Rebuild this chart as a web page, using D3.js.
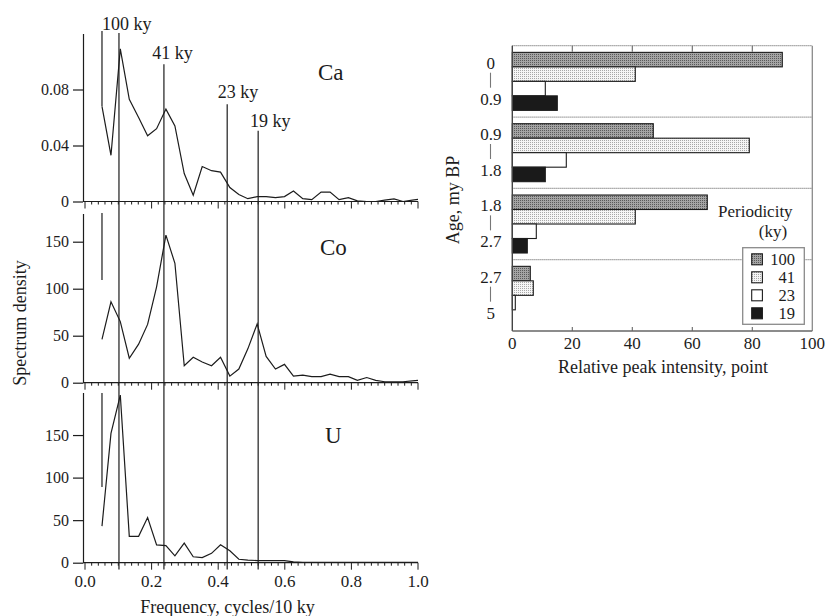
<!DOCTYPE html>
<html>
<head>
<meta charset="utf-8">
<script src="https://cdn.jsdelivr.net/npm/d3@7"></script>
<style>
  body { margin: 0; background: #fff; }
  svg { display: block; font-family: "Liberation Serif", "Times New Roman", serif; }
</style>
</head>
<body>
<svg id="chart" width="825" height="616"></svg>
<script>
// ---- Spectra: frequency grid (cycles / 10 ky) and spectral density per element ----
const frequency = [0.051, 0.078, 0.106, 0.133, 0.161, 0.188, 0.215, 0.243, 0.270, 0.298,
                   0.325, 0.352, 0.380, 0.407, 0.435, 0.462, 0.489, 0.517, 0.544, 0.572,
                   0.599, 0.626, 0.654, 0.681, 0.709, 0.736, 0.763, 0.791, 0.818, 0.846,
                   0.873, 0.900, 0.928, 0.955, 0.983, 1.000];
const caDensity = [0.068, 0.033, 0.109, 0.073, 0.060, 0.047, 0.052, 0.066, 0.054, 0.020,
                   0.0045, 0.025, 0.022, 0.021, 0.010, 0.005, 0.002, 0.0035, 0.0035, 0.0027,
                   0.0035, 0.0075, 0.002, 0.0013, 0.0067, 0.0067, 0.0013, 0.0027, 0.0005, 0.0,
                   0.0, 0.001, 0.0018, 0.0, 0.001, 0.0015];
const coDensity = [46, 86, 65, 26, 41, 62, 102, 157, 127, 18,
                   27, 22, 18, 27, 7, 14.5, 36, 62.5, 28, 14.5,
                   19.5, 7, 8, 6.5, 6.5, 9, 6.5, 6.5, 2.5, 5.5,
                   2.5, 1, 1, 1, 2, 2.5];
const uDensity  = [43, 152, 197, 31, 31, 53, 21, 20, 8, 23,
                   7, 6, 11, 21, 14, 4, 3, 2.5, 2.5, 2.5,
                   2.5, 1, 0.5, 0.5, 0.5, 0.5, 0.5, 0.5, 0.5, 0.5,
                   0.5, 0.5, 0.5, 0.5, 0.5, 0.5];

// Orbital cycles marked across the spectra
const cycleLabels = ["100 ky", "41 ky", "23 ky", "19 ky"];
const cycleFrequency = [0.102, 0.237, 0.427, 0.52];
const recordStart = 0.051;

const freqTickLabels = [0, 0.2, 0.4, 0.6, 0.8, 1.0];
const caTicks = [0, 0.04, 0.08];
const coTicks = [0, 50, 100, 150];
const uTicks = [0, 50, 100, 150];

// ---- Relative peak intensity per age interval (my BP) ----
const ageFrom = ["0", "0.9", "1.8", "2.7"];
const ageTo = ["0.9", "1.8", "2.7", "5"];
const periodicity = ["100", "41", "23", "19"];
const intensity100 = [90, 47, 65, 6];
const intensity41 = [41, 79, 41, 7];
const intensity23 = [11, 18, 8, 1];
const intensity19 = [15, 11, 5, 0];
const intensityTicks = [0, 20, 40, 60, 80, 100];

const ink = "#1c1c1c";
const svg = d3.select("#chart");

// ---------- stipple fills ----------
const defs = svg.append("defs");
function stipple(id, bg, dot) {
  const p = defs.append("pattern").attr("id", id).attr("patternUnits", "userSpaceOnUse")
    .attr("width", 2).attr("height", 2);
  p.append("rect").attr("width", 2).attr("height", 2).attr("fill", bg);
  p.append("rect").attr("width", 1).attr("height", 1).attr("fill", dot);
}
stipple("dots-dark", "#a4a4a4", "#5a5a5a");
stipple("dots-light", "#f6f6f6", "#a8a8a8");
const periodFill = { "100": "url(#dots-dark)", "41": "url(#dots-light)", "23": "#ffffff", "19": "#1a1a1a" };

// =============== LEFT: spectra ===============
const x = d3.scaleLinear().domain([0, 1]).range([85, 418]);
const axisX0 = 83;

const panels = [
  { name: "Ca", values: caDensity, domain: [0, 0.12], range: [201.5, 33.5], ticks: caTicks,
    fmt: d => d === 0 ? "0" : d3.format(".2f")(d), nameX: 318, nameY: 80, startTop: 31, startEnd: null },
  { name: "Co", values: coDensity, domain: [0, 180], range: [382.7, 213.5], ticks: coTicks,
    fmt: d3.format("d"), nameX: 320, nameY: 255, startTop: 213, startEnd: 280 },
  { name: "U", values: uDensity, domain: [0, 200], range: [562.7, 392.5], ticks: uTicks,
    fmt: d3.format("d"), nameX: 325, nameY: 443, startTop: 393, startEnd: 487 }
];

const minorTicks = x.ticks(50);

panels.forEach((p, idx) => {
  const y = d3.scaleLinear().domain(p.domain).range(p.range);
  const g = svg.append("g");
  const y0 = y(0);

  // y axis
  const yAxis = d3.axisLeft(y).tickValues(p.ticks).tickFormat(p.fmt)
    .tickSize(10).tickSizeOuter(0).tickPadding(4);
  const ya = g.append("g").attr("transform", `translate(${axisX0},0)`).call(yAxis);
  ya.attr("font-family", null).attr("font-size", null);
  ya.selectAll("path,line").attr("stroke", ink).attr("stroke-width", 1.2);
  ya.selectAll("text").attr("fill", ink).style("font-size", "16px");

  // x axis line with minor / major ticks pointing down
  g.append("line").attr("x1", axisX0).attr("x2", x(1)).attr("y1", y0).attr("y2", y0)
    .attr("stroke", ink).attr("stroke-width", 1.2);
  g.selectAll(".xt").data(minorTicks).join("line")
    .attr("x1", d => x(d)).attr("x2", d => x(d))
    .attr("y1", y0)
    .attr("y2", d => y0 + (Math.abs(d * 5 - Math.round(d * 5)) < 1e-6 ? 7 : 3))
    .attr("stroke", ink).attr("stroke-width", 1);

  // marker at the start of the record
  const startEnd = p.startEnd === null ? y(p.values[0]) : p.startEnd;
  g.append("line").attr("x1", x(recordStart)).attr("x2", x(recordStart))
    .attr("y1", p.startTop).attr("y2", startEnd).attr("stroke", ink).attr("stroke-width", 1.2);

  // spectrum
  const line = d3.line().x((d, i) => x(frequency[i])).y(d => y(d));
  g.append("path").datum(p.values).attr("d", line)
    .attr("fill", "none").attr("stroke", ink).attr("stroke-width", 1.2).attr("stroke-linejoin", "miter");

  // element name
  g.append("text").attr("x", p.nameX).attr("y", p.nameY).attr("fill", ink)
    .style("font-size", "23px").text(p.name);

  if (idx === panels.length - 1) {
    g.selectAll(".xl").data(freqTickLabels).join("text")
      .attr("x", d => x(d)).attr("y", 586.5).attr("text-anchor", "middle")
      .attr("fill", ink).style("font-size", "17px").text(d => d3.format(".1f")(d));
  }
});

// cycle lines across all three spectra
const cycleLayout = [
  { top: 33, lx: 102, ly: 30 },
  { top: 64.3, lx: 152.3, ly: 59 },
  { top: 104.3, lx: 217.7, ly: 98 },
  { top: 130.7, lx: 250, ly: 127 }
];
cycleFrequency.forEach((f, i) => {
  svg.append("line").attr("x1", x(f)).attr("x2", x(f))
    .attr("y1", cycleLayout[i].top).attr("y2", 569.5)
    .attr("stroke", ink).attr("stroke-width", 1.2);
  svg.append("text").attr("x", cycleLayout[i].lx).attr("y", cycleLayout[i].ly)
    .attr("fill", ink).style("font-size", "18px").text(cycleLabels[i]);
});

svg.append("text").attr("x", 227.5).attr("y", 613).attr("text-anchor", "middle")
  .attr("fill", ink).style("font-size", "18px").text("Frequency, cycles/10 ky");
svg.append("text").attr("transform", "translate(26,323) rotate(-90)").attr("text-anchor", "middle")
  .attr("fill", ink).style("font-size", "18px").text("Spectrum density");

// =============== RIGHT: relative peak intensity ===============
const xr = d3.scaleLinear().domain([0, 100]).range([512.3, 812.3]);
const frameTop = 45.7, frameBottom = 331;
const groups = d3.scaleBand().domain(ageFrom).range([frameTop, frameBottom]);
const inner = d3.scaleBand().domain(periodicity).range([0, groups.bandwidth()]).paddingOuter(0.46);

const series = { "100": intensity100, "41": intensity41, "23": intensity23, "19": intensity19 };
const rows = [];
ageFrom.forEach((a, gi) => periodicity.forEach(pk => rows.push({ age: a, period: pk, value: series[pk][gi] })));

const rg = svg.append("g");

// dotted frame top and interval separators
const sepY = [frameTop].concat(ageFrom.slice(1).map(a => groups(a)));
rg.selectAll(".sep").data(sepY).join("line")
  .attr("x1", xr(0)).attr("x2", xr(100)).attr("y1", d => d).attr("y2", d => d)
  .attr("stroke", "#8a8a8a").attr("stroke-width", 1.3).attr("stroke-dasharray", "1.2,0.8");

// bars
rg.selectAll(".bar").data(rows.filter(r => r.value > 0)).join("rect")
  .attr("x", xr(0))
  .attr("y", d => groups(d.age) + inner(d.period))
  .attr("width", d => xr(d.value) - xr(0))
  .attr("height", inner.bandwidth())
  .attr("fill", d => periodFill[d.period])
  .attr("stroke", ink).attr("stroke-width", 1.1);

// frame sides and bottom axis
rg.append("line").attr("x1", xr(100)).attr("x2", xr(100)).attr("y1", frameTop).attr("y2", frameBottom)
  .attr("stroke", "#8a8a8a").attr("stroke-width", 1.3);
rg.append("line").attr("x1", xr(0)).attr("x2", xr(0)).attr("y1", frameTop).attr("y2", frameBottom)
  .attr("stroke", "#444").attr("stroke-width", 1.4);
rg.append("line").attr("x1", xr(0)).attr("x2", xr(100)).attr("y1", frameBottom).attr("y2", frameBottom)
  .attr("stroke", "#666").attr("stroke-width", 1.4);
const innerTicks = intensityTicks.filter(t => t > 0 && t < 100);
rg.selectAll(".tt").data(innerTicks).join("line")
  .attr("x1", d => xr(d)).attr("x2", d => xr(d)).attr("y1", frameTop).attr("y2", frameTop + 6)
  .attr("stroke", "#666").attr("stroke-width", 1.1);
rg.selectAll(".bt").data(innerTicks).join("line")
  .attr("x1", d => xr(d)).attr("x2", d => xr(d)).attr("y1", frameBottom).attr("y2", frameBottom - 4)
  .attr("stroke", "#666").attr("stroke-width", 1.1);
rg.selectAll(".bl").data(intensityTicks).join("text")
  .attr("x", d => xr(d)).attr("y", 349).attr("text-anchor", "middle")
  .attr("fill", ink).style("font-size", "17px").text(d => d);

// age interval labels
ageFrom.forEach((a, gi) => {
  const gy = groups(a);
  rg.append("text").attr("x", 490.8).attr("y", gy + 23).attr("text-anchor", "middle")
    .attr("fill", ink).style("font-size", "17px").text(a);
  rg.append("text").attr("x", 490.8).attr("y", gy + 59).attr("text-anchor", "middle")
    .attr("fill", ink).style("font-size", "17px").text(ageTo[gi]);
  rg.append("line").attr("x1", 490.5).attr("x2", 490.5).attr("y1", gy + 27).attr("y2", gy + 42)
    .attr("stroke", "#777").attr("stroke-width", 1.1);
});

svg.append("text").attr("x", 663).attr("y", 372.5).attr("text-anchor", "middle")
  .attr("fill", ink).style("font-size", "18px").text("Relative peak intensity, point");
svg.append("text").attr("transform", "translate(459,200) rotate(-90)").attr("text-anchor", "middle")
  .attr("fill", ink).style("font-size", "18px").text("Age, my BP");

// legend
svg.append("text").attr("x", 718).attr("y", 216.5).attr("fill", ink).style("font-size", "17px").text("Periodicity");
svg.append("text").attr("x", 773).attr("y", 237).attr("text-anchor", "middle").attr("fill", ink)
  .style("font-size", "17px").text("(ky)");
const lg = svg.append("g");
lg.append("rect").attr("x", 742.7).attr("y", 247.7).attr("width", 61.6).attr("height", 76.6)
  .attr("fill", "#fff").attr("stroke", "#8a8a8a").attr("stroke-width", 1.3);
const legendRow = d3.scalePoint().domain(periodicity).range([259.3, 313.3]);
periodicity.forEach(pk => {
  const cy = legendRow(pk);
  lg.append("rect").attr("x", 751.7).attr("y", cy - 5.5).attr("width", 10.7).attr("height", 11)
    .attr("fill", periodFill[pk]).attr("stroke", ink).attr("stroke-width", 1.1);
  lg.append("text").attr("x", 795).attr("y", cy + 5.5).attr("text-anchor", "end")
    .attr("fill", ink).style("font-size", "16.5px").text(pk);
});
</script>
</body>
</html>
